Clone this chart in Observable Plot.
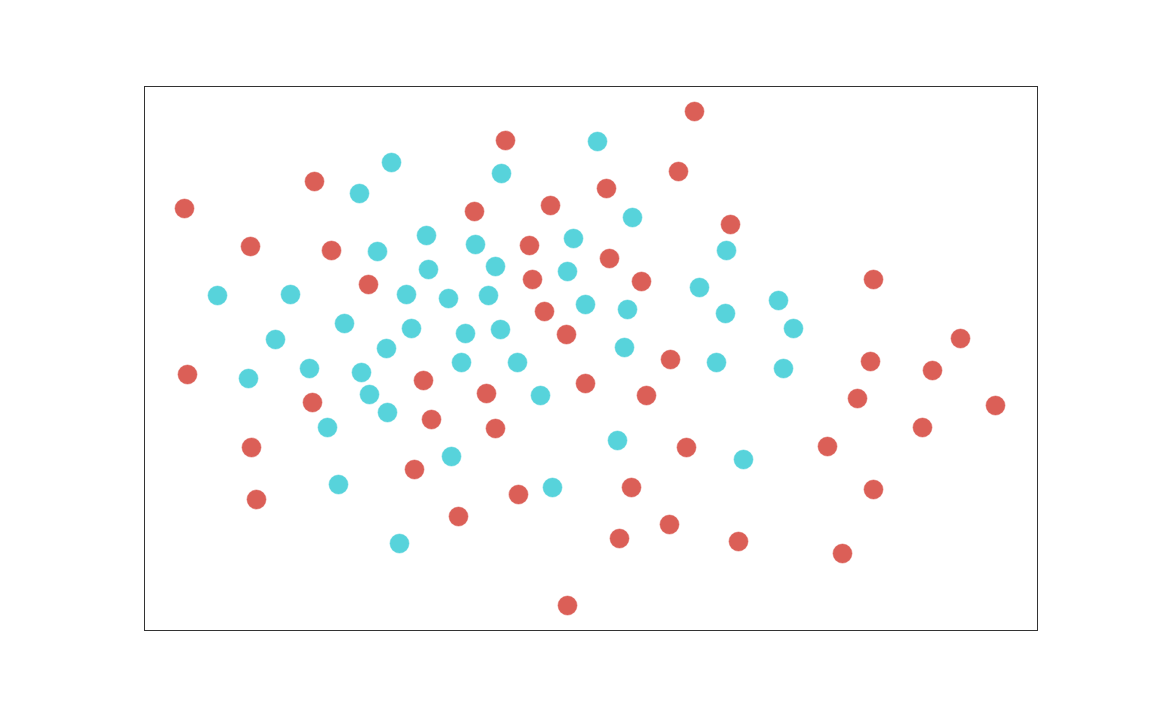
<!DOCTYPE html>
<html>
<head>
<meta charset="utf-8">
<script src="https://cdn.jsdelivr.net/npm/d3@7"></script>
<script src="https://cdn.jsdelivr.net/npm/@observablehq/plot@0.6"></script>
<style>
  html, body { margin: 0; padding: 0; background: #fff; }
  #chart { width: 1152px; height: 720px; }
</style>
</head>
<body>
<div id="chart"></div>
<script>
// Group A (red)
const redX = [694, 505, 314, 678, 606, 184, 550, 474, 730, 250, 331, 529, 609, 368, 532, 641, 873, 544, 566, 960,
  187, 670, 870, 932, 423, 585, 486, 646, 857, 312, 995, 431, 495, 922, 251, 686, 827, 414, 631, 873,
  518, 256, 458, 669, 619, 738, 842, 567];
const redY = [111, 140, 181, 171, 188, 208, 205, 211, 224, 246, 250, 245, 258, 284, 279, 281, 279, 311, 334, 338,
  374, 359, 361, 370, 380, 383, 393, 395, 398, 402, 405, 419, 428, 427, 447, 447, 446, 469, 487, 489,
  494, 499, 516, 524, 538, 541, 553, 605];

// Group B (cyan)
const cyanX = [597, 391, 501, 359, 632, 426, 573, 475, 377, 726, 495, 428, 567, 699, 217, 290, 406, 448, 488, 778,
  585, 627, 725, 344, 411, 465, 500, 793, 275, 386, 624, 461, 517, 716, 309, 361, 783, 248, 369, 540,
  387, 327, 617, 451, 743, 338, 552, 399];
const cyanY = [141, 162, 173, 193, 217, 235, 238, 244, 251, 250, 266, 269, 271, 287, 295, 294, 294, 298, 295, 300,
  304, 309, 313, 323, 328, 333, 329, 328, 339, 348, 347, 362, 362, 362, 368, 372, 368, 378, 394, 395,
  412, 427, 440, 456, 459, 484, 487, 543];

const groups = ["A", "B"];
const colors = ["#db5f57", "#57d3db"];

const data = [
  ...redX.map((x, i) => ({x, y: redY[i], g: "A"})),
  ...cyanX.map((x, i) => ({x, y: cyanY[i], g: "B"}))
];

const chart = Plot.plot({
  width: 1152,
  height: 720,
  marginLeft: 144,
  marginRight: 115,
  marginTop: 86,
  marginBottom: 90,
  x: {domain: [144, 1037], axis: null},
  y: {domain: [86, 630], reverse: true, axis: null},
  color: {domain: groups, range: colors},
  style: {background: "#fff"},
  marks: [
    Plot.dot(data, {x: "x", y: "y", fill: "g", r: 10, stroke: "white", strokeWidth: 0.5}),
    Plot.frame({stroke: "#333", strokeWidth: 1})
  ]
});
document.getElementById("chart").appendChild(chart);
</script>
</body>
</html>
